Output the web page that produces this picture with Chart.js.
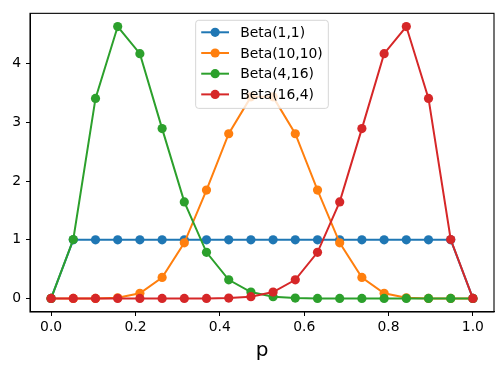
<!DOCTYPE html>
<html>
<head>
<meta charset="utf-8">
<script src="https://cdn.jsdelivr.net/npm/chart.js@4.4.1/dist/chart.umd.min.js"></script>
<style>
  body { margin: 0; background: #fff; }
  #wrap { width: 503px; height: 370px; }
</style>
</head>
<body>
<div id="wrap"><canvas id="grafico" width="503" height="370"></canvas></div>
<script>
'use strict';

// valores de p (20 pontos entre 0 e 1)
const pontosP = [0, 0.0526, 0.1053, 0.1579, 0.2105, 0.2632, 0.3158, 0.3684, 0.4211, 0.4737,
                 0.5263, 0.5789, 0.6316, 0.6842, 0.7368, 0.7895, 0.8421, 0.8947, 0.9474, 1];

const beta1_1 = [0, 1, 1, 1, 1, 1, 1, 1, 1, 1, 1, 1, 1, 1, 1, 1, 1, 1, 1, 0];
const beta10_10 = [0, 0, 0.0005, 0.012, 0.089, 0.358, 0.948, 1.847, 2.808, 3.437,
                   3.437, 2.808, 1.847, 0.948, 0.358, 0.089, 0.012, 0.0005, 0, 0];
const beta4_16 = [0, 1.005, 3.41, 4.636, 4.173, 2.896, 1.646, 0.787, 0.318, 0.109,
                  0.031, 0.007, 0.0012, 0.0002, 0, 0, 0, 0, 0, 0];
const beta16_4 = [0, 0, 0, 0, 0, 0, 0.0002, 0.0012, 0.007, 0.031,
                  0.109, 0.318, 0.787, 1.646, 2.896, 4.173, 4.636, 3.41, 1.005, 0];

const rotulos = ['Beta(1,1)', 'Beta(10,10)', 'Beta(4,16)', 'Beta(16,4)'];
const cores = ['#1f77b4', '#ff7f0e', '#2ca02c', '#d62728'];

const ticksX = [0, 0.2, 0.4, 0.6, 0.8, 1.0];
const ticksY = [0, 1, 2, 3, 4];

const fonte = 'DejaVu Sans';
//========================================================================================

function montaSerie(valores) {
    return pontosP.map((p, i) => ({ x: p, y: valores[i] }));
}

const series = [beta1_1, beta10_10, beta4_16, beta16_4];
const datasets = series.map((valores, i) => ({
    label: rotulos[i],
    data: montaSerie(valores),
    borderColor: cores[i],
    backgroundColor: cores[i],
    borderWidth: 2,
    pointRadius: 4.6,
    pointBorderWidth: 0,
    pointHoverRadius: 4.6,
    tension: 0,
    order: series.length - i
}));
//========================================================================================

// moldura (spines) e legenda ao estilo matplotlib
const molduraLegenda = {
    id: 'molduraLegenda',
    afterDatasetsDraw(chart) {
        const { ctx, chartArea: a } = chart;
        ctx.save();
        ctx.strokeStyle = '#000';
        ctx.lineWidth = 1.1;
        ctx.strokeRect(a.left, a.top, a.right - a.left, a.bottom - a.top);
        ctx.restore();
    },
    afterDraw(chart) {
        const { ctx, chartArea: a } = chart;
        const fs = 13.9;
        ctx.save();
        ctx.font = fs + 'px "' + fonte + '"';
        let maxW = 0;
        rotulos.forEach(r => { maxW = Math.max(maxW, ctx.measureText(r).width); });
        const pad = 0.4 * fs, handle = 2 * fs, gap = 0.8 * fs, passo = 20.7;
        const w = pad * 2 + handle + gap + maxW;
        const h = 12 + (rotulos.length - 1) * passo + 14;
        const x0 = (a.left + a.right) / 2 - w / 2;
        const y0 = a.top + 0.5 * fs;

        ctx.beginPath();
        ctx.roundRect(x0, y0, w, h, 3);
        ctx.fillStyle = 'rgba(255,255,255,0.8)';
        ctx.fill();
        ctx.strokeStyle = 'rgba(204,204,204,0.8)';
        ctx.lineWidth = 1;
        ctx.stroke();

        rotulos.forEach((r, i) => {
            const y = y0 + 12 + i * passo;
            ctx.strokeStyle = cores[i];
            ctx.lineWidth = 2;
            ctx.beginPath();
            ctx.moveTo(x0 + pad, y);
            ctx.lineTo(x0 + pad + handle, y);
            ctx.stroke();
            ctx.fillStyle = cores[i];
            ctx.beginPath();
            ctx.arc(x0 + pad + handle / 2, y, 4.6, 0, Math.PI * 2);
            ctx.fill();
            ctx.fillStyle = '#000';
            ctx.textBaseline = 'middle';
            ctx.textAlign = 'left';
            ctx.fillText(r, x0 + pad + handle + gap, y + 1);
        });
        ctx.restore();
    }
};
//========================================================================================

const grafico = new Chart(document.getElementById('grafico'), {
    type: 'line',
    data: { datasets: datasets },
    options: {
        responsive: false,
        animation: false,
        devicePixelRatio: 1,
        layout: { padding: { left: 0, top: 10, right: 9, bottom: 0 } },
        plugins: {
            legend: { display: false },
            tooltip: { enabled: false }
        },
        scales: {
            x: {
                type: 'linear',
                min: -0.05,
                max: 1.05,
                afterFit: s => { s.height = 58; },
                afterBuildTicks: s => { s.ticks = ticksX.map(v => ({ value: v })); },
                grid: { drawOnChartArea: false, drawTicks: true, tickLength: 4, color: '#000', lineWidth: 1 },
                border: { color: '#000', width: 1 },
                ticks: {
                    color: '#000',
                    padding: 3,
                    maxRotation: 0,
                    font: { family: fonte, size: 13.9 },
                    callback: v => v.toFixed(1)
                },
                title: {
                    display: true,
                    text: 'p',
                    color: '#000',
                    font: { family: fonte, size: 20 },
                    padding: { top: 0, bottom: 7 }
                }
            },
            y: {
                type: 'linear',
                min: -0.231,
                max: 4.861,
                afterFit: s => { s.width = 30; },
                afterBuildTicks: s => { s.ticks = ticksY.map(v => ({ value: v })); },
                grid: { drawOnChartArea: false, drawTicks: true, tickLength: 4, color: '#000', lineWidth: 1 },
                border: { color: '#000', width: 1 },
                ticks: {
                    color: '#000',
                    padding: 5,
                    font: { family: fonte, size: 13.9 },
                    callback: v => String(v)
                }
            }
        }
    },
    plugins: [molduraLegenda]
});
</script>
</body>
</html>
